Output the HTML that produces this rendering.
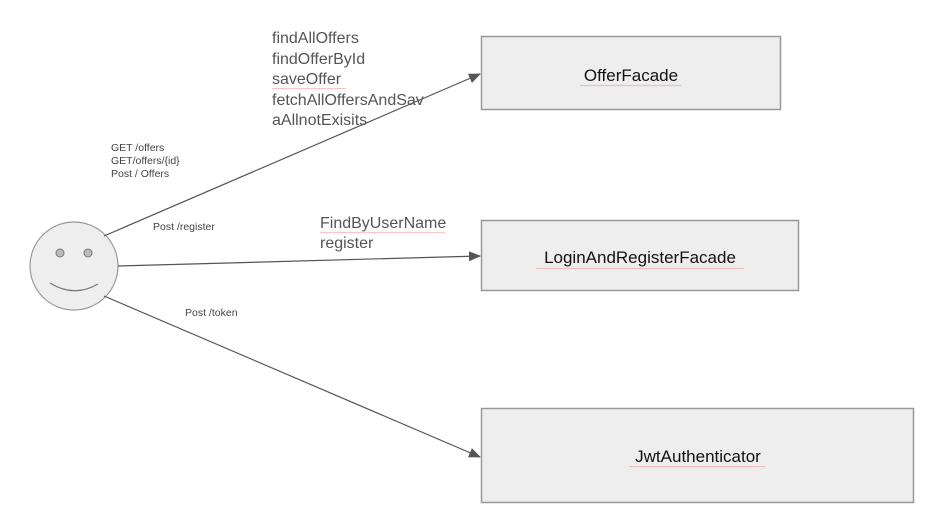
<!DOCTYPE html>
<html><head><meta charset="utf-8"><style>
html,body{margin:0;padding:0;background:#fff;}
svg{display:block;}
text{font-family:"Liberation Sans",Arial,sans-serif;}
</style></head><body>
<svg width="945" height="528" viewBox="0 0 945 528" xmlns="http://www.w3.org/2000/svg">
<defs>
<marker id="a" markerWidth="12" markerHeight="10" refX="11" refY="5" orient="auto" markerUnits="userSpaceOnUse">
<path d="M0,0 L12,5 L0,10 z" fill="#555"/></marker>
<pattern id="sq" width="4" height="3" patternUnits="userSpaceOnUse">
<path d="M0,2 L1,1 L2,2 L3,1 L4,2" stroke="#e88" stroke-width="0.6" fill="none"/></pattern>
</defs>
<rect x="481.5" y="36.5" width="299" height="73" fill="#eeeeee" stroke="#999" stroke-width="1.5"/>
<rect x="481.5" y="220.5" width="317" height="70" fill="#eeeeee" stroke="#999" stroke-width="1.5"/>
<rect x="481.5" y="408.5" width="432" height="94" fill="#eeeeee" stroke="#999" stroke-width="1.5"/>
<text x="631" y="81" font-size="17" text-anchor="middle" fill="#111">OfferFacade</text>
<rect x="580" y="84" width="101" height="3" fill="url(#sq)" opacity="0.7"/>
<text x="640" y="263" font-size="17" text-anchor="middle" fill="#111">LoginAndRegisterFacade</text>
<rect x="536" y="266" width="208" height="3" fill="url(#sq)" opacity="0.7"/>
<text x="698" y="462" font-size="17" text-anchor="middle" fill="#111">JwtAuthenticator</text>
<rect x="629" y="466" width="136" height="3" fill="url(#sq)" opacity="0.7"/>
<circle cx="74" cy="266" r="44" fill="#eeeeee" stroke="#999" stroke-width="1.2"/>
<circle cx="60" cy="253" r="4" fill="#bbb" stroke="#777" stroke-width="1"/>
<circle cx="88" cy="253" r="4" fill="#bbb" stroke="#777" stroke-width="1"/>
<path d="M50,283 Q74,298 98,284" fill="none" stroke="#777" stroke-width="1.3"/>
<line x1="104" y1="236" x2="480" y2="74" stroke="#555" stroke-width="1.2" marker-end="url(#a)"/>
<line x1="118" y1="266" x2="480" y2="256" stroke="#555" stroke-width="1.2" marker-end="url(#a)"/>
<line x1="104" y1="296" x2="480" y2="457" stroke="#555" stroke-width="1.2" marker-end="url(#a)"/>
<g font-size="10.5" fill="#444">
<text x="111" y="151">GET /offers</text>
<text x="111" y="164">GET/offers/{id}</text>
<text x="111" y="177">Post / Offers</text>
<text x="153" y="230">Post /register</text>
<text x="185" y="316">Post /token</text>
</g>
<g font-size="16" fill="#555">
<text x="272" y="43">findAllOffers</text>
<text x="272" y="64">findOfferById</text>
<text x="272" y="84">saveOffer</text>
<text x="272" y="105">fetchAllOffersAndSav</text>
<text x="272" y="125">aAllnotExisits</text>
<text x="320" y="228">FindByUserName</text>
<text x="320" y="248">register</text>
</g>
<rect x="272" y="88" width="74" height="3" fill="url(#sq)" opacity="0.7"/>
<rect x="320" y="231" width="125" height="3" fill="url(#sq)" opacity="0.7"/>
</svg>
</body></html>
